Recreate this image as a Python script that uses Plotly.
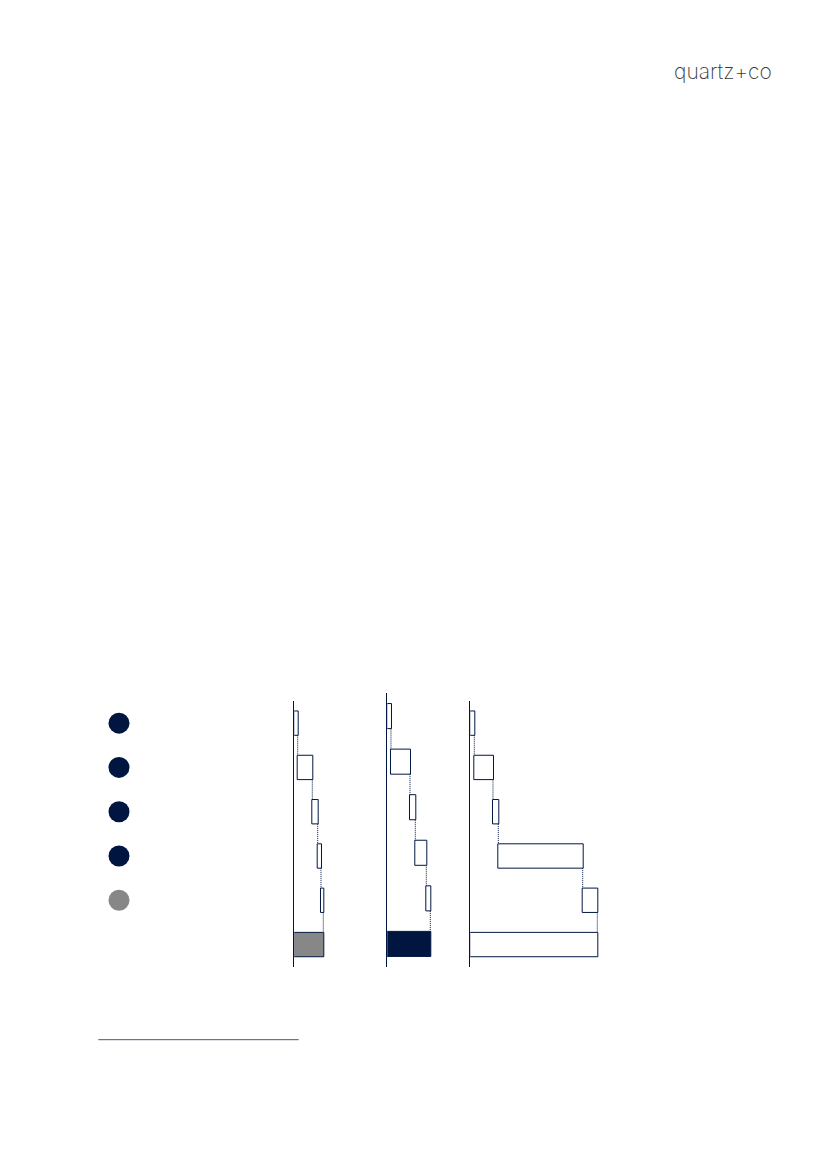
import plotly.graph_objects as go

PAGE_W, PAGE_H = 827, 1169
BODY_MARGIN = 8  # the html page body keeps its default 8px margin
NAVY = "#001641"
GREY = "#878787"

# waterfall categories (labels are blank in the reference)
steps = ["1", "2", "3", "4", "5", "Total"]
measures = ["relative"] * 5 + ["total"]

# step values (same unit in all three)
left_values = [3.4, 14.6, 5.4, 3.3, 2.3, 0]
middle_values = [3.7, 19.0, 5.3, 11.0, 4.0, 0]
right_values = [4.0, 18.7, 5.3, 84.4, 14.6, 0]

# numbered markers on the left
marker_rows = ["1", "2", "3", "4", "5"]
marker_colors = [NAVY, NAVY, NAVY, NAVY, GREY]

X_RANGE = 140  # units; one unit ~ one pixel


def px_x(px):
    return (px - BODY_MARGIN) / PAGE_W


def px_y(px):
    return 1 - (px - BODY_MARGIN) / PAGE_H


def waterfall(values, total_color, xaxis, yaxis):
    return go.Waterfall(
        orientation="h",
        x=values,
        y=steps,
        measure=measures,
        width=0.55,
        increasing=dict(marker=dict(color="white", line=dict(color=NAVY, width=1))),
        decreasing=dict(marker=dict(color="white", line=dict(color=NAVY, width=1))),
        totals=dict(marker=dict(color=total_color, line=dict(color=NAVY, width=1))),
        connector=dict(mode="between", line=dict(color=NAVY, width=1, dash="1px,1px")),
        xaxis=xaxis,
        yaxis=yaxis,
        showlegend=False,
        hoverinfo="skip",
    )


fig = go.Figure()
fig.add_trace(waterfall(left_values, GREY, "x", "y"))
fig.add_trace(waterfall(middle_values, NAVY, "x2", "y2"))
fig.add_trace(waterfall(right_values, "white", "x3", "y3"))
fig.add_trace(
    go.Scatter(
        x=[0] * len(marker_rows),
        y=marker_rows,
        mode="markers",
        marker=dict(size=21, color=marker_colors, line=dict(width=0)),
        xaxis="x4",
        yaxis="y",
        showlegend=False,
        hoverinfo="skip",
    )
)

hidden_x = dict(visible=False, range=[0, X_RANGE], fixedrange=True)
y_common = dict(
    type="category",
    categoryorder="array",
    categoryarray=steps,
    range=[5.5, -0.5],
    showline=True,
    linecolor=NAVY,
    linewidth=1,
    showticklabels=False,
    ticks="",
    showgrid=False,
    zeroline=False,
)

fig.update_layout(
    width=PAGE_W,
    height=PAGE_H,
    margin=dict(l=0, r=0, t=0, b=0),
    paper_bgcolor="white",
    plot_bgcolor="rgba(0,0,0,0)",
    xaxis=dict(hidden_x, domain=[px_x(294.3), px_x(294.3 + X_RANGE)], anchor="y"),
    xaxis2=dict(hidden_x, domain=[px_x(387.3), px_x(387.3 + X_RANGE)], anchor="y2"),
    xaxis3=dict(hidden_x, domain=[px_x(470.3), px_x(470.3 + X_RANGE)], anchor="y3"),
    xaxis4=dict(visible=False, range=[-1, 1], domain=[px_x(99), px_x(139)], anchor="y"),
    yaxis=dict(y_common, domain=[px_y(966.7), px_y(701)], anchor="x"),
    yaxis2=dict(y_common, domain=[px_y(966.7), px_y(693.3)], anchor="x2"),
    yaxis3=dict(y_common, domain=[px_y(966.7), px_y(701)], anchor="x3"),
    annotations=[
        dict(
            text="quartz+co",
            xref="paper",
            yref="paper",
            x=px_x(774),
            y=px_y(72),
            xanchor="right",
            yanchor="middle",
            showarrow=False,
            font=dict(family="Inter, Lato, sans-serif", size=21, color="#3a3a3a", weight=200),
        )
    ],
    shapes=[
        dict(
            type="line",
            xref="paper",
            yref="paper",
            x0=px_x(98.3),
            x1=px_x(298.7),
            y0=px_y(1039.7),
            y1=px_y(1039.7),
            line=dict(color="#4a5472", width=1),
        )
    ],
)

fig.write_html("out.html", config=dict(displayModeBar=False))
